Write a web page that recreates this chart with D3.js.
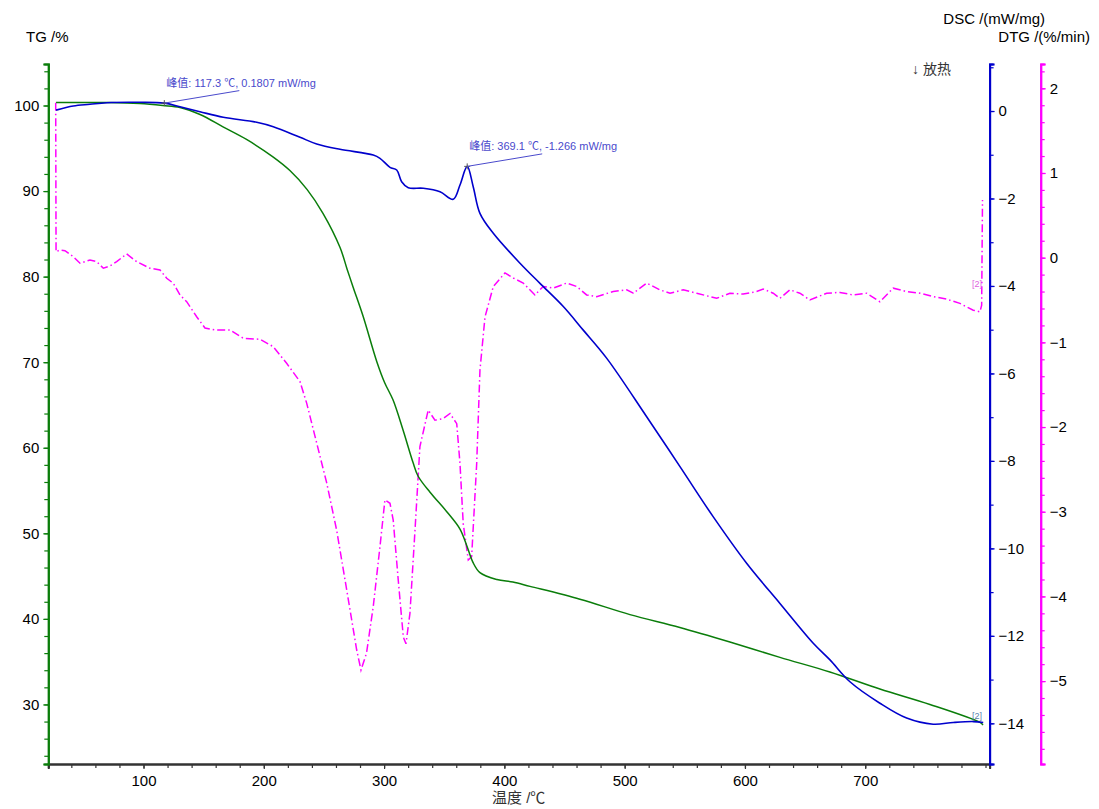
<!DOCTYPE html>
<html>
<head>
<meta charset="utf-8">
<script src="https://cdn.jsdelivr.net/npm/d3@7"></script>
<style>
  body { margin: 0; background: #fff; }
  text { font-family: "Liberation Sans", Arial, "Noto Sans CJK SC", sans-serif; }
</style>
</head>
<body>
<svg id="chart" width="1099" height="809"></svg>
<script>
// TG mass curve: [temperature °C, mass %]
const tgSeries = [
  [27.3,100.35],[41.4,100.35],[69.7,100.35],[97.1,100.23],[116.2,100.0],[130.3,99.77],
  [147,98.95],[166.1,97.5],[186,96.0],[207.6,94.0],[221.7,92.4],[235.9,90.2],[249.2,87.4],
  [263.4,83.4],[269.2,80.9],[274.2,78.8],[282.5,75.4],[294.1,70.0],[300.5,67.6],
  [307.4,65.6],[315.7,62.1],[324,58.3],[328.2,56.7],[338.2,54.8],[352.3,52.5],[363.1,50.5],
  [368.9,48.5],[373.9,46.6],[379.7,45.4],[393.8,44.6],[407.1,44.3],[421.3,43.8],[462.8,42.3],
  [504.4,40.5],[545.9,39.0],[587.5,37.3],[629.1,35.5],[670.6,33.8],[712.2,31.8],[753.8,30.0],
  [795.4,27.9],[797.9,27.6]
];

// DSC heat flow: [temperature °C, mW/mg]
const dscSeries = [
  [27.3,0.02],[41.6,0.114],[55.5,0.153],[69.4,0.19],[97.1,0.199],[117.3,0.1807],[130.3,0.098],
  [146.9,-0.016],[166.3,-0.144],[194.1,-0.258],[207.9,-0.359],[230.1,-0.60],[244,-0.754],
  [263.3,-0.876],[291,-1.006],[296.6,-1.081],[304.9,-1.287],[310.5,-1.349],[314.6,-1.616],
  [320.1,-1.753],[332.6,-1.767],[346.5,-1.845],[357.5,-2.019],[363.1,-1.692],[369.1,-1.266],
  [374.1,-1.73],[379.7,-2.339],[390.8,-2.796],[413,-3.48],[429.6,-3.94],[449,-4.47],
  [465.6,-5.01],[485,-5.65],[518.3,-6.99],[546,-8.13],[573.7,-9.28],[601.4,-10.34],
  [629.1,-11.26],[656.8,-12.17],[670.7,-12.55],[687.3,-13.05],[712.2,-13.54],[734.4,-13.88],
  [756.5,-14.02],[773.2,-13.98],[789.8,-13.96],[798.1,-13.98]
];

// DTG mass-loss rate: [temperature °C, %/min]
const dtgSeries = [
  [27.0,1.83],[27.3,0.07],[30.6,0.091],[34.7,0.083],[41.6,0.012],[47.2,-0.066],[55.5,-0.027],
  [61.1,-0.047],[66.6,-0.125],[72.2,-0.098],[77.7,-0.047],[86,0.044],[94.3,-0.047],
  [105.4,-0.125],[113.7,-0.145],[119.3,-0.243],[124.8,-0.302],[130.3,-0.44],[135.9,-0.52],
  [144.2,-0.697],[151.1,-0.83],[159.4,-0.853],[171.9,-0.854],[183,-0.952],[196.8,-0.964],
  [207.9,-1.051],[219,-1.247],[230.1,-1.464],[235.7,-1.72],[244,-2.19],[252.3,-2.66],
  [260.6,-3.22],[268.9,-3.92],[277.2,-4.63],[280.8,-4.87],[285.4,-4.67],[291,-4.12],
  [296.6,-3.41],[300.7,-2.86],[304.9,-2.90],[307.6,-3.10],[311.8,-3.81],[316,-4.48],
  [318.2,-4.56],[321.5,-4.20],[325.7,-3.22],[329.8,-2.23],[336.7,-1.80],[342.3,-1.92],
  [349.2,-1.90],[354.8,-1.84],[360.4,-1.96],[363.1,-2.43],[365.8,-3.14],[370,-3.57],
  [372.8,-3.53],[377,-2.43],[379.7,-1.33],[383.9,-0.70],[390.8,-0.34],[400.5,-0.18],
  [407.4,-0.24],[415.7,-0.30],[425.4,-0.44],[432.3,-0.34],[440.6,-0.36],[451.8,-0.30],
  [460.1,-0.34],[468.4,-0.44],[476.7,-0.46],[490.5,-0.40],[501.7,-0.38],[507.2,-0.42],
  [518.3,-0.30],[529.3,-0.38],[537.7,-0.42],[548.7,-0.38],[559.9,-0.42],[576.5,-0.48],
  [587.5,-0.42],[598.6,-0.43],[609.7,-0.40],[615.2,-0.37],[623.5,-0.42],[629.1,-0.48],
  [637.4,-0.38],[645.7,-0.42],[654,-0.50],[667.9,-0.42],[679,-0.41],[690,-0.44],
  [701.2,-0.42],[712.2,-0.52],[723.3,-0.36],[734.4,-0.40],[745.5,-0.42],[756.5,-0.46],
  [767.7,-0.49],[778.7,-0.54],[789.8,-0.62],[795.4,-0.64],[796.8,-0.56],[797.5,0.68]
];

// Axis tick values
const xTicks = [100, 200, 300, 400, 500, 600, 700];
const tgTicks = [30, 40, 50, 60, 70, 80, 90, 100];
const dscTicks = [-14, -12, -10, -8, -6, -4, -2, 0];
const dtgTicks = [-5, -4, -3, -2, -1, 0, 1, 2];

// Labelled DSC peaks: [temperature °C, mW/mg]
const dscPeaks = [[117.3, 0.1807], [369.1, -1.266]];

const svg = d3.select("#chart");

const plotLeft = 48.3, plotRight = 989.6, plotTop = 64, plotBottom = 764, dtgAxisX = 1040.7;

const x = d3.scaleLinear().domain([20.85, 803.4]).range([plotLeft, plotRight]);
const yTG = d3.scaleLinear().domain([23.04, 104.85]).range([plotBottom, plotTop]);
const yDSC = d3.scaleLinear().domain([-14.93, 1.075]).range([plotBottom, plotTop]);
const yDTG = d3.scaleLinear().domain([-5.979, 2.287]).range([plotBottom, plotTop]);

const GREEN = "#0a7d0a", BLUE = "#0000cc", MAGENTA = "#ff00ff";

function styleAxis(g, color, labelColor) {
  g.select(".domain").attr("stroke", color).attr("stroke-width", 2);
  g.selectAll(".tick line").attr("stroke", color).attr("stroke-width", 1.2);
  g.selectAll(".tick text").attr("fill", labelColor).style("font-size", "15px");
}

// Evenly spaced minor tick values between lo and hi
function minorTicks(lo, hi, step) {
  const out = [];
  for (let v = lo; v <= hi + 1e-9; v += step) out.push(+v.toFixed(4));
  return out;
}

// X axis
svg.append("g").attr("transform", `translate(0,${plotBottom})`)
  .call(d3.axisBottom(x).tickValues(minorTicks(40, 800, 20)).tickSize(4).tickFormat(""))
  .call(g => styleAxis(g, "#333", "#000"));
svg.append("g").attr("transform", `translate(0,${plotBottom})`)
  .call(d3.axisBottom(x).tickValues(xTicks).tickSize(5).tickPadding(6).tickFormat(d3.format("d")))
  .call(g => styleAxis(g, "#333", "#000"));

// TG axis (left)
svg.append("g").attr("transform", `translate(${plotLeft},0)`)
  .call(d3.axisLeft(yTG).tickValues(minorTicks(24, 104, 2)).tickSize(4).tickFormat(""))
  .call(g => styleAxis(g, GREEN, "#000"));
svg.append("g").attr("transform", `translate(${plotLeft},0)`)
  .call(d3.axisLeft(yTG).tickValues(tgTicks).tickSize(5).tickPadding(4).tickFormat(d3.format("d")))
  .call(g => styleAxis(g, GREEN, "#000"));

// DSC axis (right, blue)
svg.append("g").attr("transform", `translate(${plotRight},0)`)
  .call(d3.axisRight(yDSC).tickValues(minorTicks(-14, 1, 1)).tickSize(4).tickFormat(""))
  .call(g => styleAxis(g, BLUE, "#000"));
svg.append("g").attr("transform", `translate(${plotRight},0)`)
  .call(d3.axisRight(yDSC).tickValues(dscTicks).tickSize(5).tickPadding(4).tickFormat(d3.format("d")))
  .call(g => styleAxis(g, BLUE, "#000"));

// DTG axis (far right, magenta)
svg.append("g").attr("transform", `translate(${dtgAxisX},0)`)
  .call(d3.axisRight(yDTG).tickValues(minorTicks(-5.8, 2.2, 0.2)).tickSize(4).tickFormat(""))
  .call(g => styleAxis(g, MAGENTA, "#000"));
svg.append("g").attr("transform", `translate(${dtgAxisX},0)`)
  .call(d3.axisRight(yDTG).tickValues(dtgTicks).tickSize(5).tickPadding(4).tickFormat(d3.format("d")))
  .call(g => styleAxis(g, MAGENTA, "#000"));

// Curves
const lineTG = d3.line().x(d => x(d[0])).y(d => yTG(d[1])).curve(d3.curveCatmullRom.alpha(0.5));
const lineDSC = d3.line().x(d => x(d[0])).y(d => yDSC(d[1])).curve(d3.curveCatmullRom.alpha(0.5));
const lineDTG = d3.line().x(d => x(d[0])).y(d => yDTG(d[1])).curve(d3.curveLinear);

svg.append("path").datum(dtgSeries).attr("d", lineDTG)
  .attr("fill", "none").attr("stroke", MAGENTA).attr("stroke-width", 1.5)
  .attr("stroke-dasharray", "8,3,1.5,3");
svg.append("path").datum(tgSeries).attr("d", lineTG)
  .attr("fill", "none").attr("stroke", GREEN).attr("stroke-width", 1.5);
svg.append("path").datum(dscSeries).attr("d", lineDSC)
  .attr("fill", "none").attr("stroke", BLUE).attr("stroke-width", 1.6);

// Peak markers with leader lines and value labels
const peakColor = "#4a4acc";
dscPeaks.forEach(p => {
  const px = x(p[0]), py = yDSC(p[1]);
  svg.append("path").attr("d", `M${px - 3},${py}H${px + 3}M${px},${py - 3}V${py + 3}`)
    .attr("stroke", "#555").attr("stroke-width", 1);
  svg.append("line").attr("x1", px).attr("y1", py).attr("x2", px + 75).attr("y2", py - 12.5)
    .attr("stroke", peakColor).attr("stroke-width", 1);
  svg.append("text").attr("x", px + 2).attr("y", py - 16)
    .attr("fill", peakColor).style("font-size", "11px")
    .text(`峰值: ${p[0].toFixed(1)} ℃, ${p[1]} mW/mg`);
});

// Curve end tags
svg.append("text").attr("x", 972).attr("y", 287).attr("fill", "#e060e0")
  .style("font-size", "9px").text("[2]");
svg.append("text").attr("x", 972).attr("y", 719).attr("fill", "#5a7fb0")
  .style("font-size", "9px").text("[2]");

// Axis titles
svg.append("text").attr("x", 26).attr("y", 42).style("font-size", "15px").attr("fill", "#000").text("TG /%");
svg.append("text").attr("x", 1045).attr("y", 24).attr("text-anchor", "end").style("font-size", "15px").attr("fill", "#000").text("DSC /(mW/mg)");
svg.append("text").attr("x", 1090).attr("y", 42).attr("text-anchor", "end").style("font-size", "15px").attr("fill", "#000").text("DTG /(%/min)");
svg.append("text").attr("x", 912).attr("y", 74).style("font-size", "14px").attr("fill", "#333").text("↓ 放热");
svg.append("text").attr("x", 492).attr("y", 803).style("font-size", "15px").attr("fill", "#333").text("温度 /℃");
</script>
</body>
</html>
